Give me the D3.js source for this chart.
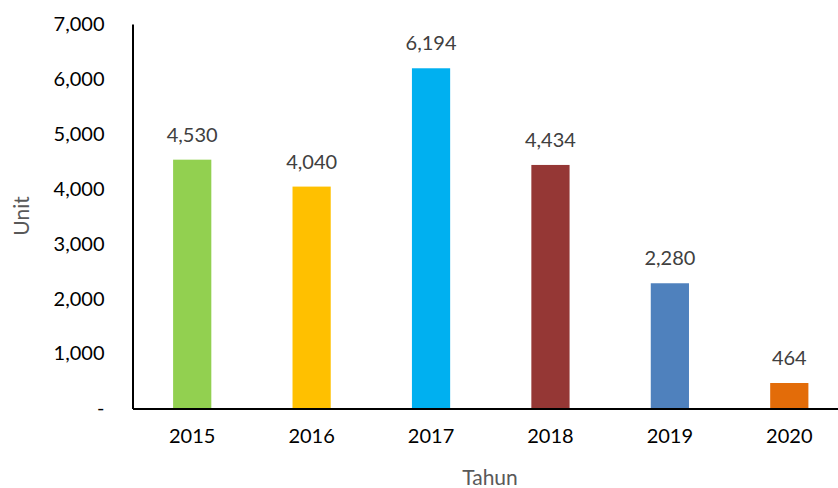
<!DOCTYPE html>
<html>
<head>
<meta charset="utf-8">
<script src="https://cdn.jsdelivr.net/npm/d3@7"></script>
<style>
  body { margin: 0; background: #fff; }
  text { font-family: Lato, "Open Sans", sans-serif; }
</style>
</head>
<body>
<svg class="chart" width="838" height="488"></svg>
<script>
// chart values
const years = ["2015", "2016", "2017", "2018", "2019", "2020"];
const units = [4530, 4040, 6194, 4434, 2280, 464];
const barColors = ["#92D050", "#FFC000", "#00B0F0", "#953735", "#4F81BD", "#E36C09"];
const yTicks = [0, 1000, 2000, 3000, 4000, 5000, 6000, 7000];

const svg = d3.select(".chart");
const plotLeft = 132.5, plotRight = 849, plotTop = 24, plotBottom = 408.5;

const x = d3.scaleBand()
  .domain(years)
  .range([plotLeft, plotRight])
  .paddingInner(0.68)
  .paddingOuter(0.34);

const y = d3.scaleLinear()
  .domain([0, 7000])
  .range([plotBottom, plotTop]);

const fmt = d3.format(",");

// bars
svg.selectAll("rect.bar")
  .data(years)
  .join("rect")
  .attr("class", "bar")
  .attr("x", d => x(d))
  .attr("width", x.bandwidth())
  .attr("y", (d, i) => y(units[i]))
  .attr("height", (d, i) => y(0) - y(units[i]))
  .attr("fill", (d, i) => barColors[i]);

// data labels
svg.selectAll("text.lbl")
  .data(years)
  .join("text")
  .attr("class", "lbl")
  .attr("x", d => x(d) + x.bandwidth() / 2)
  .attr("y", (d, i) => y(units[i]) - 18)
  .attr("text-anchor", "middle")
  .attr("font-size", 20)
  .attr("fill", "#404040")
  .text((d, i) => fmt(units[i]));

// y axis
const yAxis = svg.append("g")
  .attr("transform", `translate(${plotLeft},0)`)
  .call(d3.axisLeft(y).tickValues(yTicks).tickSize(0).tickPadding(28)
    .tickFormat(d => d === 0 ? "-" : fmt(d)));
yAxis.select(".domain").attr("stroke", "#000").attr("stroke-width", 2);
yAxis.selectAll("text").attr("font-size", 20).attr("fill", "#000")
  .style("font-family", "Lato, 'Open Sans', sans-serif");

// x axis
const xAxis = svg.append("g")
  .attr("transform", `translate(0,${plotBottom})`)
  .call(d3.axisBottom(x).tickSize(0).tickPadding(20));
xAxis.select(".domain").attr("stroke", "#000").attr("stroke-width", 2);
xAxis.selectAll("text").attr("font-size", 20).attr("fill", "#000")
  .style("font-family", "Lato, 'Open Sans', sans-serif");

// axis titles
svg.append("text")
  .attr("x", 490).attr("y", 485)
  .attr("text-anchor", "middle")
  .attr("font-size", 21)
  .attr("fill", "#595959")
  .text("Tahun");

svg.append("text")
  .attr("transform", "translate(29,216) rotate(-90)")
  .attr("text-anchor", "middle")
  .attr("font-size", 21)
  .attr("fill", "#595959")
  .text("Unit");
</script>
</body>
</html>
